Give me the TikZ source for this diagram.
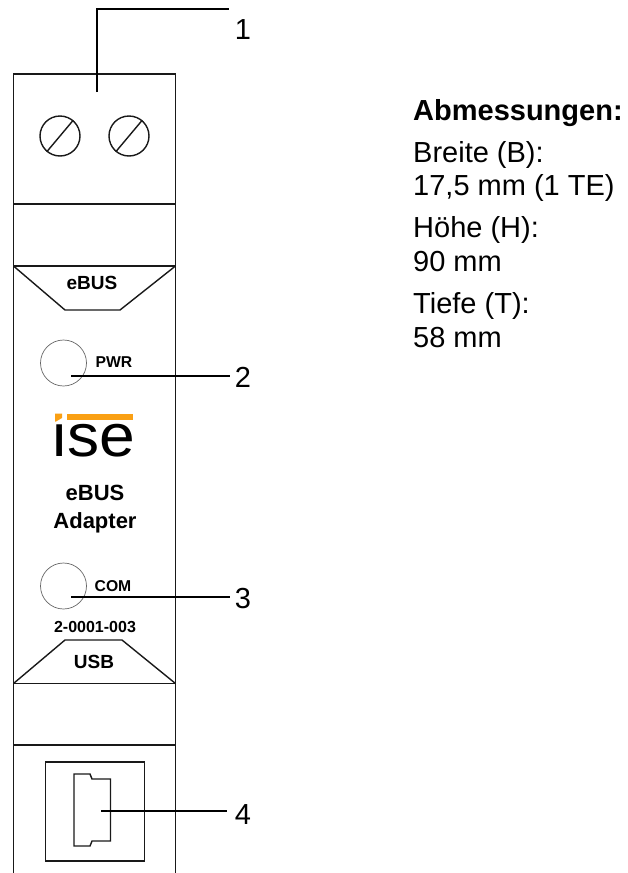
\documentclass[tikz,border=0pt]{standalone}
\usepackage{fontspec}
\setmainfont{Liberation Sans}
\definecolor{logoorange}{RGB}{250,160,20}
\tikzset{
  x=1pt,y=-1pt,
  body/.style={line width=1.4pt,black!90},
  leader/.style={line width=1.6pt,black},
  led/.style={line width=0.7pt,black!60},
  callout/.style={font=\fontsize{29}{29}\selectfont,inner sep=0pt},
  panel/.style={inner sep=0pt,align=center},
  info/.style={font=\fontsize{29}{29}\selectfont,inner sep=0pt,anchor=base west},
}
\begin{document}
\begin{tikzpicture}
\useasboundingbox (0,0) rectangle (628,873);
% housing
\draw[body] (13.5,873) -- (13.5,74) -- (175.5,74) -- (175.5,873);
\draw[body] (13.5,204) -- (175.5,204);
\draw[body] (13.5,266) -- (175.5,266);
\draw[body] (13.5,683.5) -- (175.5,683.5);
\draw[body] (13.5,745) -- (175.5,745);
\draw[body] (13.5,266) -- (65,310) -- (120,310) -- (175.5,266);
\draw[body] (13.5,683.5) -- (65,640) -- (122,640) -- (175.5,683.5);
% screws
\node[draw,circle,body,minimum size=40pt,inner sep=0pt] (s1) at (60,136) {};
\node[draw,circle,body,minimum size=40pt,inner sep=0pt] (s2) at (129,136) {};
\draw[body] (s1.-130) -- (s1.50);
\draw[body] (s2.-130) -- (s2.50);
% LEDs
\node[draw,circle,led,minimum size=46pt,inner sep=0pt] (pwr) at (63.5,363) {};
\node[draw,circle,led,minimum size=46pt,inner sep=0pt] (com) at (63.5,586) {};
% panel text
\node[panel,font=\fontsize{19}{19}\selectfont\bfseries] (tebus) at (92,282.5) {eBUS};
\node[panel,font=\fontsize{15.7}{16}\selectfont\bfseries] (tpwr) at (114,362.5) {PWR};
\node[panel,font=\fontsize{15.7}{16}\selectfont\bfseries] (tcom) at (113,586) {COM};
\node[panel,anchor=base,font=\fontsize{22}{22}\selectfont\bfseries] (tname1) at (95,500) {eBUS};
\node[panel,anchor=base,font=\fontsize{22}{22}\selectfont\bfseries] (tname2) at (95,528) {Adapter};
\node[panel,font=\fontsize{16}{16}\selectfont\bfseries] (tnum) at (95,627) {2-0001-003};
\node[panel,font=\fontsize{19}{19}\selectfont\bfseries] (tusb) at (94,662) {USB};
% logo
\begin{scope}
\clip (48,423) rectangle (138,470);
\node[inner sep=0pt,anchor=base west,font=\fontsize{60}{60}\selectfont] (logo) at (52.7,456) {\scalebox{1.07}[1]{ise}};
\end{scope}
\fill[logoorange] (55,413.5) -- (62,413.5) -- (62,418) -- (56,421.5) -- (55,421.5) -- cycle;
\fill[logoorange] (67,413.5) rectangle (133,419.5);
% USB socket
\node[draw,body,minimum size=99pt,inner sep=0pt] (usbbox) at (94.7,811.5) {};
\draw[body] (74,774) -- (90,774) -- (92,779) -- (110.5,779) -- (110.5,841) -- (92,841) -- (90,846) -- (74,846) -- cycle;
% callouts
\node[callout] (n1) at (243,30) {1};
\node[callout] (n2) at (243,377) {2};
\node[callout] (n3) at (243,599) {3};
\node[callout] (n4) at (243,815) {4};
\coordinate (a1) at (97,92);
\coordinate (e1) at (229,9);
\coordinate (a2) at (71,376);
\coordinate (e2) at (230,376);
\coordinate (a3) at (71,597);
\coordinate (e3) at (230,597);
\coordinate (a4) at (101,811);
\coordinate (e4) at (227,811);
\draw[leader] (a1) |- (e1);
\draw[leader] (a2) -- (e2);
\draw[leader] (a3) -- (e3);
\draw[leader] (a4) -- (e4);
% dimensions
\node[info,font=\fontsize{29}{29}\selectfont\bfseries] (t0) at (413,120) {Abmessungen:};
\node[info] (t1) at (413,162) {Breite (B):};
\node[info] (t2) at (413,195) {17,5 mm (1 TE)};
\node[info] (t3) at (413,237) {Höhe (H):};
\node[info] (t4) at (413,271) {90 mm};
\node[info] (t5) at (413,313) {Tiefe (T):};
\node[info] (t6) at (413,347) {58 mm};
\end{tikzpicture}
\end{document}
